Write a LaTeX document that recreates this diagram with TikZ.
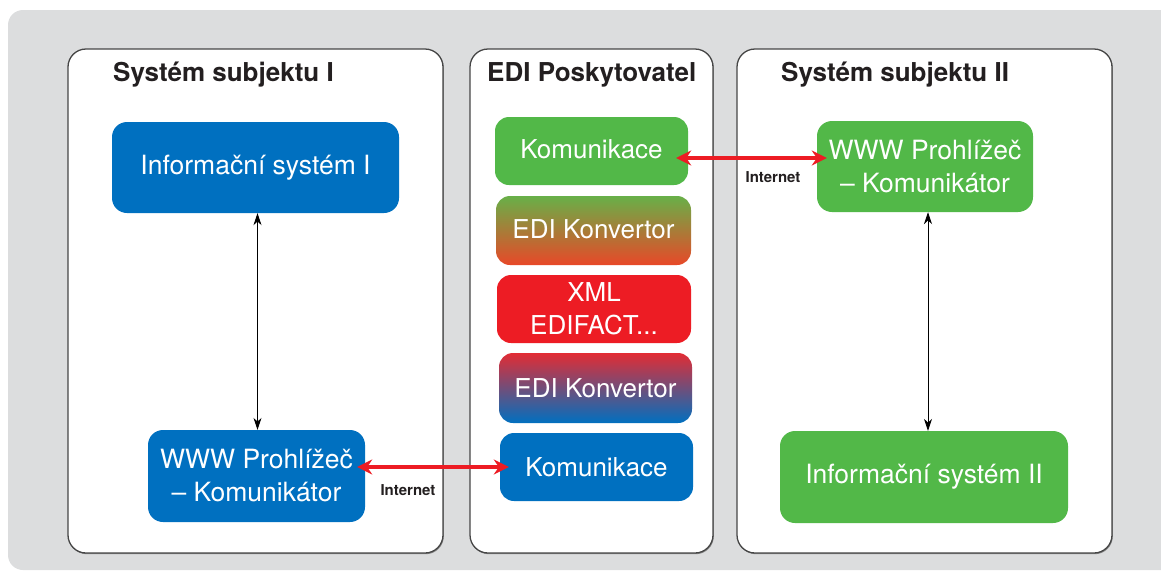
\documentclass[tikz,border=0pt]{standalone}
\usepackage{fontspec}
\setmainfont{TeX Gyre Heros}
\usetikzlibrary{arrows.meta,shadows}
\definecolor{bgray}{RGB}{220,221,222}
\definecolor{ublue}{RGB}{0,112,192}
\definecolor{ugreen}{RGB}{82,184,72}
\definecolor{ured}{RGB}{237,28,36}
\definecolor{edigreen}{RGB}{104,176,72}
\definecolor{ediorange}{RGB}{232,72,40}
\definecolor{edired}{RGB}{226,44,52}
\definecolor{frame}{RGB}{70,70,70}
\definecolor{txt}{RGB}{35,31,32}
\begin{document}
\begin{tikzpicture}[x=1pt,y=-1pt,
  panel/.style={draw=frame,line width=1.3pt,fill=white,rounded corners=18pt,
    drop shadow={shadow xshift=0.8pt,shadow yshift=-1.2pt,fill=black!55,opacity=0.8}},
  bigbox/.style={rounded corners=15pt,text=white,align=center,inner sep=0pt,
    font=\fontsize{26.5}{33}\selectfont},
  midbox/.style={rounded corners=14pt,text=white,align=center,inner sep=0pt,
    minimum width=193pt,minimum height=68pt,font=\fontsize{26}{33}\selectfont},
  title/.style={anchor=base west,inner sep=0pt,text=txt,font=\fontsize{26}{30}\selectfont\bfseries},
  blackarr/.style={{Stealth[length=12pt,width=8pt]}-{Stealth[length=12pt,width=8pt]},line width=0.8pt,black},
  redarr/.style={{Stealth[length=15pt,width=15pt,inset=5pt]}-{Stealth[length=15pt,width=15pt,inset=5pt]},line width=3.5pt,ured},
  netlabel/.style={inner sep=0pt,text=txt,font=\fontsize{15}{17}\selectfont\bfseries}
]
\useasboundingbox (0,0) rectangle (1161,574);
% background
\fill[bgray,rounded corners=15pt] (8,10) rectangle (1185,570);
% panels
\node[panel,minimum width=375pt,minimum height=504pt] (leftP) at (255.5,301) {};
\node[panel,minimum width=243pt,minimum height=504pt] (midP) at (591.5,301) {};
\node[panel,minimum width=375pt,minimum height=504pt] (rightP) at (924.5,301) {};
% titles
\node[title] (tL) at (113,81) {Systém subjektu I};
\node[title] (tM) at (487,81) {EDI Poskytovatel};
\node[title] (tR) at (781,81) {Systém subjektu II};
% left boxes
\node[bigbox,fill=ublue,minimum width=287pt,minimum height=91pt] (infoI) at (255.5,167.5) {Informační systém I};
\node[bigbox,fill=ublue,minimum width=217pt,minimum height=92pt] (wwwL) at (256.5,476) {WWW Prohlížeč\\– Komunikátor};
% right boxes
\node[bigbox,fill=ugreen,minimum width=216pt,minimum height=91pt] (wwwR) at (925,166.5) {WWW Prohlížeč\\– Komunikátor};
\node[bigbox,fill=ugreen,minimum width=288pt,minimum height=92pt] (infoII) at (924,477) {Informační systém II};
% middle boxes
\node[midbox,fill=ugreen] (komG) at (591.5,151) {\raisebox{3pt}{Komunikace}};
\node[midbox,top color=edigreen,bottom color=ediorange,minimum width=195pt,minimum height=69pt] (edi1) at (593.5,230.5) {\raisebox{3pt}{EDI Konvertor}};
\node[midbox,fill=ured,minimum width=194pt] (xml) at (594,309) {XML\\EDIFACT...};
\node[midbox,top color=edired,bottom color=ublue,minimum height=70pt] (edi2) at (595.5,388) {EDI Konvertor};
\node[midbox,fill=ublue] (komB) at (596.5,467) {Komunikace};
% black arrows
\draw[blackarr] ([xshift=2pt]infoI.south) -- ([xshift=2pt]infoI.south |- wwwL.north);
\draw[blackarr] ([xshift=3pt]wwwR.south) -- ([xshift=3pt]wwwR.south |- infoII.north);
% red arrows
\draw[redarr,shorten <=-8pt,shorten >=-9pt] (wwwL.east |- komB.west) -- (komB.west);
\draw[redarr,shorten <=-12pt,shorten >=-10pt] ([yshift=-7pt]komG.east) -- ([yshift=-7pt]komG.east -| wwwR.west);
% labels
\node[netlabel] (netL) at (408,490) {Internet};
\node[netlabel] (netR) at (773,177) {Internet};
\end{tikzpicture}
\end{document}
